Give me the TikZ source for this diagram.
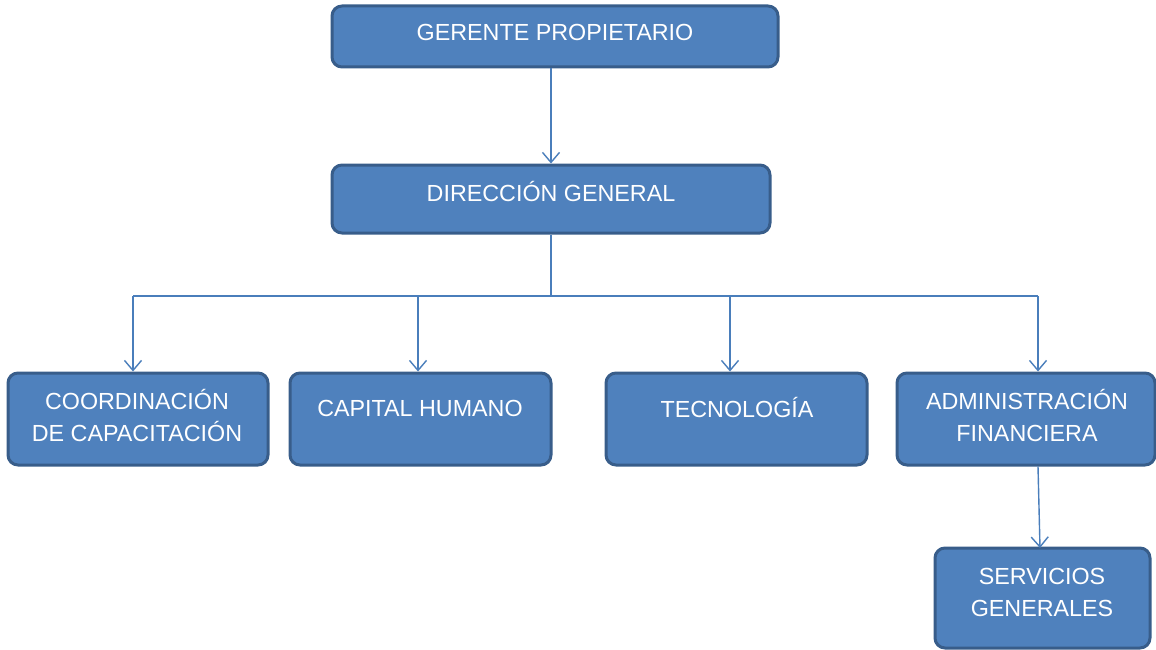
\documentclass[tikz,border=0pt]{standalone}
\usepackage{fontspec}
\setmainfont{Liberation Sans}
\usetikzlibrary{arrows.meta}
\definecolor{boxfill}{HTML}{4F81BD}
\definecolor{boxedge}{HTML}{385D8A}
\definecolor{linkc}{HTML}{4A7EBB}
\tikzset{
  orgbox/.style={draw=boxedge, line width=3pt, fill=boxfill, rounded corners=10pt, inner sep=0pt},
  orgtxt/.style={text=white, font=\fontsize{23.3}{32}\selectfont, align=center, inner sep=0pt},
  link/.style={draw=linkc, line width=1.4pt},
  linkarrow/.style={link, -{Straight Barb[length=10pt, width=17pt, line width=1.4pt]}}
}
\begin{document}
\begin{tikzpicture}[x=1pt, y=-1pt]
\useasboundingbox (0,0) rectangle (1156,650);
% boxes
\node[orgbox, minimum width=446pt, minimum height=61pt] (g) at (555,36.5) {};
\node[orgbox, minimum width=438pt, minimum height=68pt] (d) at (551,199) {};
\node[orgbox, minimum width=260pt, minimum height=92pt] (c) at (138,419) {};
\node[orgbox, minimum width=261pt, minimum height=92pt] (h) at (420.5,419) {};
\node[orgbox, minimum width=261pt, minimum height=92pt] (t) at (736.5,419) {};
\node[orgbox, minimum width=258pt, minimum height=92pt] (a) at (1026,419) {};
\node[orgbox, minimum width=215pt, minimum height=100pt] (s) at (1042.5,598) {};
% texts
\node[orgtxt] (gt) at (555,32) {GERENTE PROPIETARIO};
\node[orgtxt] (dt) at (551,192) {DIRECCIÓN GENERAL};
\node[orgtxt] (ct) at (137,416) {COORDINACIÓN\\DE CAPACITACIÓN};
\node[orgtxt] (ht) at (420,408) {CAPITAL HUMANO};
\node[orgtxt] (tt) at (737,408) {TECNOLOGÍA};
\node[orgtxt] (at) at (1027,416) {ADMINISTRACIÓN\\FINANCIERA};
\node[orgtxt] (st) at (1042,592) {SERVICIOS\\GENERALES};
% connectors
\coordinate (j) at (551,296);
\coordinate (jl) at (133,296);
\coordinate (jr) at (1038,296);
\coordinate (jh) at (418,296);
\coordinate (jt) at (730,296);
\draw[linkarrow] (g.south -| d.north) -- (d.north);
\draw[link] (d.south) -- (j);
\draw[link] (jl) -- (jr);
\draw[linkarrow] (jl) -- (jl |- c.north);
\draw[linkarrow] (jh) -- (jh |- h.north);
\draw[linkarrow] (jt) -- (jt |- t.north);
\draw[linkarrow] (jr) -- (jr |- a.north);
\draw[linkarrow] (a.south -| jr) -- (1040,548);
\end{tikzpicture}
\end{document}
